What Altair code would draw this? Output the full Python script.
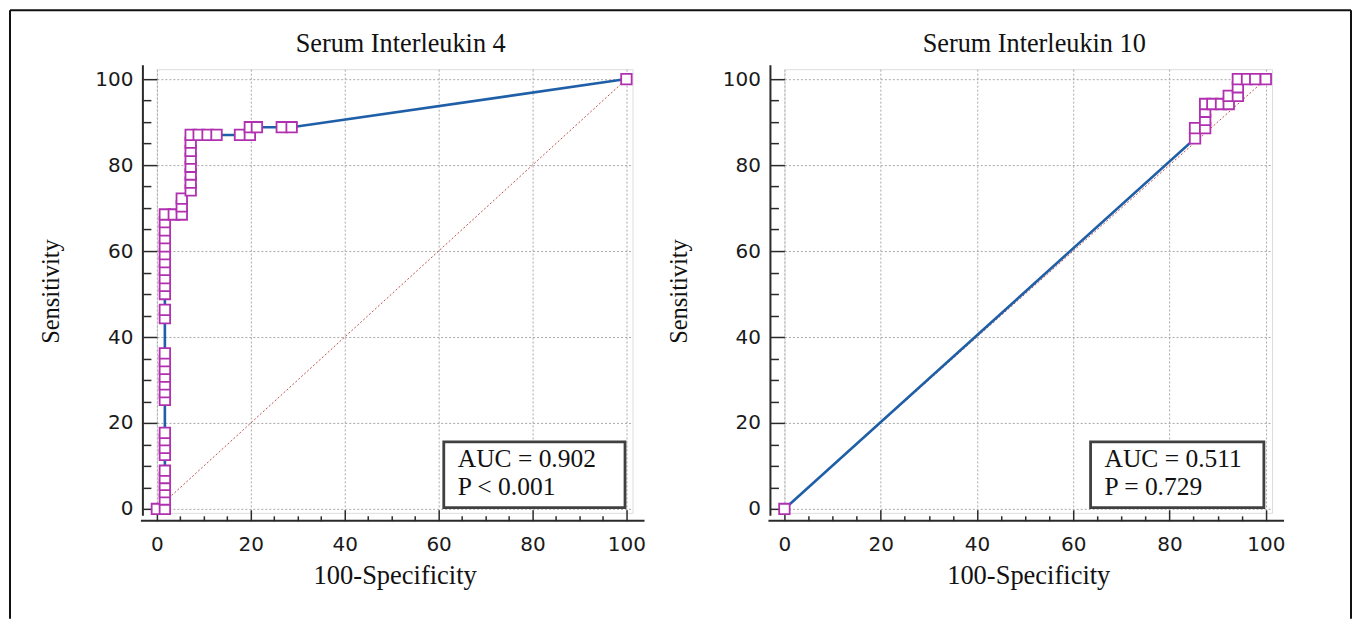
import altair as alt
import pandas as pd

# ---------------- data ----------------
panel_titles = ["Serum Interleukin 4", "Serum Interleukin 10"]

il4_fpr = [0, 1.7,
           1.7, 1.7, 1.7, 1.7, 1.7,
           1.7, 1.7, 1.7, 1.7,
           1.7, 1.7, 1.7, 1.7, 1.7, 1.7, 1.7,
           1.7, 1.7,
           1.7, 1.7, 1.7, 1.7, 1.7, 1.7, 1.7, 1.7, 1.7, 1.7, 1.7,
           3.6, 5.3, 5.3, 5.3,
           7.2, 7.2, 7.2, 7.2, 7.2, 7.2, 7.2, 7.2,
           8.9, 10.8, 12.7,
           17.7, 19.8, 19.8, 21.3, 26.6, 28.7,
           100]
il4_tpr = [0, 0,
           2.2, 3.9, 5.6, 7.2, 8.9,
           12.6, 14.2, 16.0, 17.7,
           25.4, 27.2, 29.0, 30.8, 32.6, 34.4, 36.2,
           44.4, 46.3,
           50.0, 51.9, 53.7, 55.6, 57.4, 59.3, 61.1, 63.0, 64.8, 66.7, 68.5,
           68.5, 68.5, 70.4, 72.2,
           74.1, 75.9, 77.8, 79.6, 81.5, 83.3, 85.2, 87.0,
           87.0, 87.0, 87.0,
           87.0, 87.0, 88.8, 88.8, 88.8, 88.8,
           100]

il10_fpr = [0, 85.3, 85.3, 87.4, 87.4, 87.4, 87.4, 88.9, 90.7, 92.3, 92.3,
            94.2, 94.2, 94.2, 96.1, 97.8, 100]
il10_tpr = [0, 86.2, 88.6, 88.6, 90.5, 92.4, 94.2, 94.2, 94.2, 94.2, 96.1,
            96.1, 98.1, 100, 100, 100, 100]

il4_stats = ["AUC = 0.902", "P < 0.001"]
il10_stats = ["AUC = 0.511", "P = 0.729"]

diag_x = [0, 100]
diag_y = [0, 100]

major_ticks = [0, 20, 40, 60, 80, 100]
minor_ticks = [5, 10, 15, 25, 30, 35, 45, 50, 55, 65, 70, 75, 85, 90, 95]

# ---------------- styling ----------------
X_DOMAIN = [0, 101.3]
Y_DOMAIN = [-0.9, 102.3]
H = 444
SERIF = "Liberation Serif"
SANS = "DejaVu Sans"
AX = "#2a2a2a"


def panel(fpr, tpr, title, stats, width, box_left, box_right, border_layers):
    roc = pd.DataFrame({"fpr": fpr, "tpr": tpr, "i": list(range(len(fpr)))})
    diag = pd.DataFrame({"fpr": diag_x, "tpr": diag_y})
    xs = alt.Scale(domain=X_DOMAIN, nice=False, zero=False)
    ys = alt.Scale(domain=Y_DOMAIN, nice=False, zero=False)

    grid_kw = dict(grid=True, gridColor="#a8a8a8", gridDash=[2, 2], gridWidth=1)

    main_x = alt.Axis(orient="bottom", values=major_ticks, offset=8, domain=False,
                      ticks=False, tickSize=0, labelPadding=14, labelFlush=False,
                      labelFont=SANS, labelFontSize=20, labelColor="#1a1a1a",
                      title="100-Specificity", titleFont=SERIF, titleFontSize=26.5,
                      titleFontWeight="normal", titleColor="#111111", titlePadding=8,
                      **grid_kw)
    main_y = alt.Axis(orient="left", values=major_ticks, offset=14, domain=False,
                      ticks=False, tickSize=0, labelPadding=10, labelFlush=False,
                      labelFont=SANS, labelFontSize=20, labelColor="#1a1a1a",
                      title="Sensitivity", titleFont=SERIF, titleFontSize=24.5,
                      titleFontWeight="normal", titleColor="#111111", titlePadding=31,
                      **grid_kw)
    maj_x = alt.Axis(orient="bottom", values=major_ticks, offset=-3, domain=False,
                     labels=False, grid=False, tickSize=11, tickColor=AX, tickWidth=1.5,
                     title=None)
    maj_y = alt.Axis(orient="left", values=major_ticks, offset=0, domain=False,
                     labels=False, grid=False, tickSize=14, tickColor=AX, tickWidth=1.5,
                     title=None)
    min_x = alt.Axis(orient="bottom", values=minor_ticks, offset=3, domain=False,
                     labels=False, grid=False, tickSize=5, tickColor=AX, tickWidth=1.5,
                     title=None)
    min_y = alt.Axis(orient="left", values=minor_ticks, offset=6, domain=False,
                     labels=False, grid=False, tickSize=8, tickColor=AX, tickWidth=1.5,
                     title=None)

    diag_layer = alt.Chart(diag).mark_line(
        color="#c0504d", strokeWidth=1, strokeDash=[2, 2]
    ).encode(
        x=alt.X("fpr:Q", scale=xs, axis=main_x),
        y=alt.Y("tpr:Q", scale=ys, axis=main_y),
    )
    line_layer = alt.Chart(roc).mark_line(color="#1f5fa8", strokeWidth=2.6).encode(
        x=alt.X("fpr:Q", scale=xs, axis=maj_x),
        y=alt.Y("tpr:Q", scale=ys, axis=maj_y),
        order=alt.Order("i:Q"),
    )
    pts_layer = alt.Chart(roc).mark_point(
        shape="square", size=110, filled=False, fill="white", fillOpacity=1,
        stroke="#b030b0", strokeWidth=1.8, opacity=1
    ).encode(
        x=alt.X("fpr:Q", scale=xs, axis=min_x),
        y=alt.Y("tpr:Q", scale=ys, axis=min_y),
    )
    box = alt.Chart(roc).mark_rect(
        fill="white", stroke="#404040", strokeWidth=2.8
    ).encode(
        x=alt.XDatum(box_left, scale=xs, axis=None),
        x2=alt.X2Datum(box_right),
        y=alt.YDatum(0.3, scale=ys, axis=None),
        y2=alt.Y2Datum(15.6),
    ).transform_filter("datum.i == 0")
    txt = alt.Chart(roc).mark_text(
        text=stats, align="left", baseline="alphabetic", dx=14, dy=25.5,
        lineHeight=28, font=SERIF, fontSize=25.5, color="#111111"
    ).encode(
        x=alt.XDatum(box_left, scale=xs, axis=None),
        y=alt.YDatum(15.6, scale=ys, axis=None),
    ).transform_filter("datum.i == 0")
    ttl = alt.Chart(roc).mark_text(
        text=title, align="center", baseline="alphabetic", font=SERIF,
        fontSize=26.3, color="#111111"
    ).encode(
        x=alt.value(width / 2 + 6), y=alt.value(-17)
    ).transform_filter("datum.i == 0")
    xline = alt.Chart(roc).mark_rule(color=AX, strokeWidth=2).encode(
        x=alt.value(-16), x2=alt.value(width + 12), y=alt.value(H + 8)
    ).transform_filter("datum.i == 0")
    yline = alt.Chart(roc).mark_rule(color=AX, strokeWidth=2).encode(
        x=alt.value(-14), y=alt.value(-4), y2=alt.value(H + 3)
    ).transform_filter("datum.i == 0")

    layers = [diag_layer, line_layer, pts_layer, box, txt, ttl, xline, yline]
    for spec in border_layers:
        layers.append(
            alt.Chart(roc).mark_rule(color="#111111", strokeWidth=2)
            .encode(**spec).transform_filter("datum.i == 0")
        )
    return alt.layer(*layers).resolve_axis(
        x="independent", y="independent"
    ).properties(width=width, height=H)


left = panel(il4_fpr, il4_tpr, panel_titles[0], il4_stats, 476, 61.1, 99.7, [
    dict(x=alt.value(-147), y=alt.value(-59), y2=alt.value(550)),
    dict(x=alt.value(-147), x2=alt.value(1195), y=alt.value(-59)),
])
right = panel(il10_fpr, il10_tpr, panel_titles[1], il10_stats, 488, 63.6, 99.6, [
    dict(x=alt.value(567), y=alt.value(-59), y2=alt.value(550)),
])

chart = alt.hconcat(left, right, spacing=152, bounds="flush").properties(
    padding=0
).configure_view(strokeWidth=0, strokeOpacity=0).configure(background="white")

chart.save("out.html", embed_options={"renderer": "svg", "actions": False})
